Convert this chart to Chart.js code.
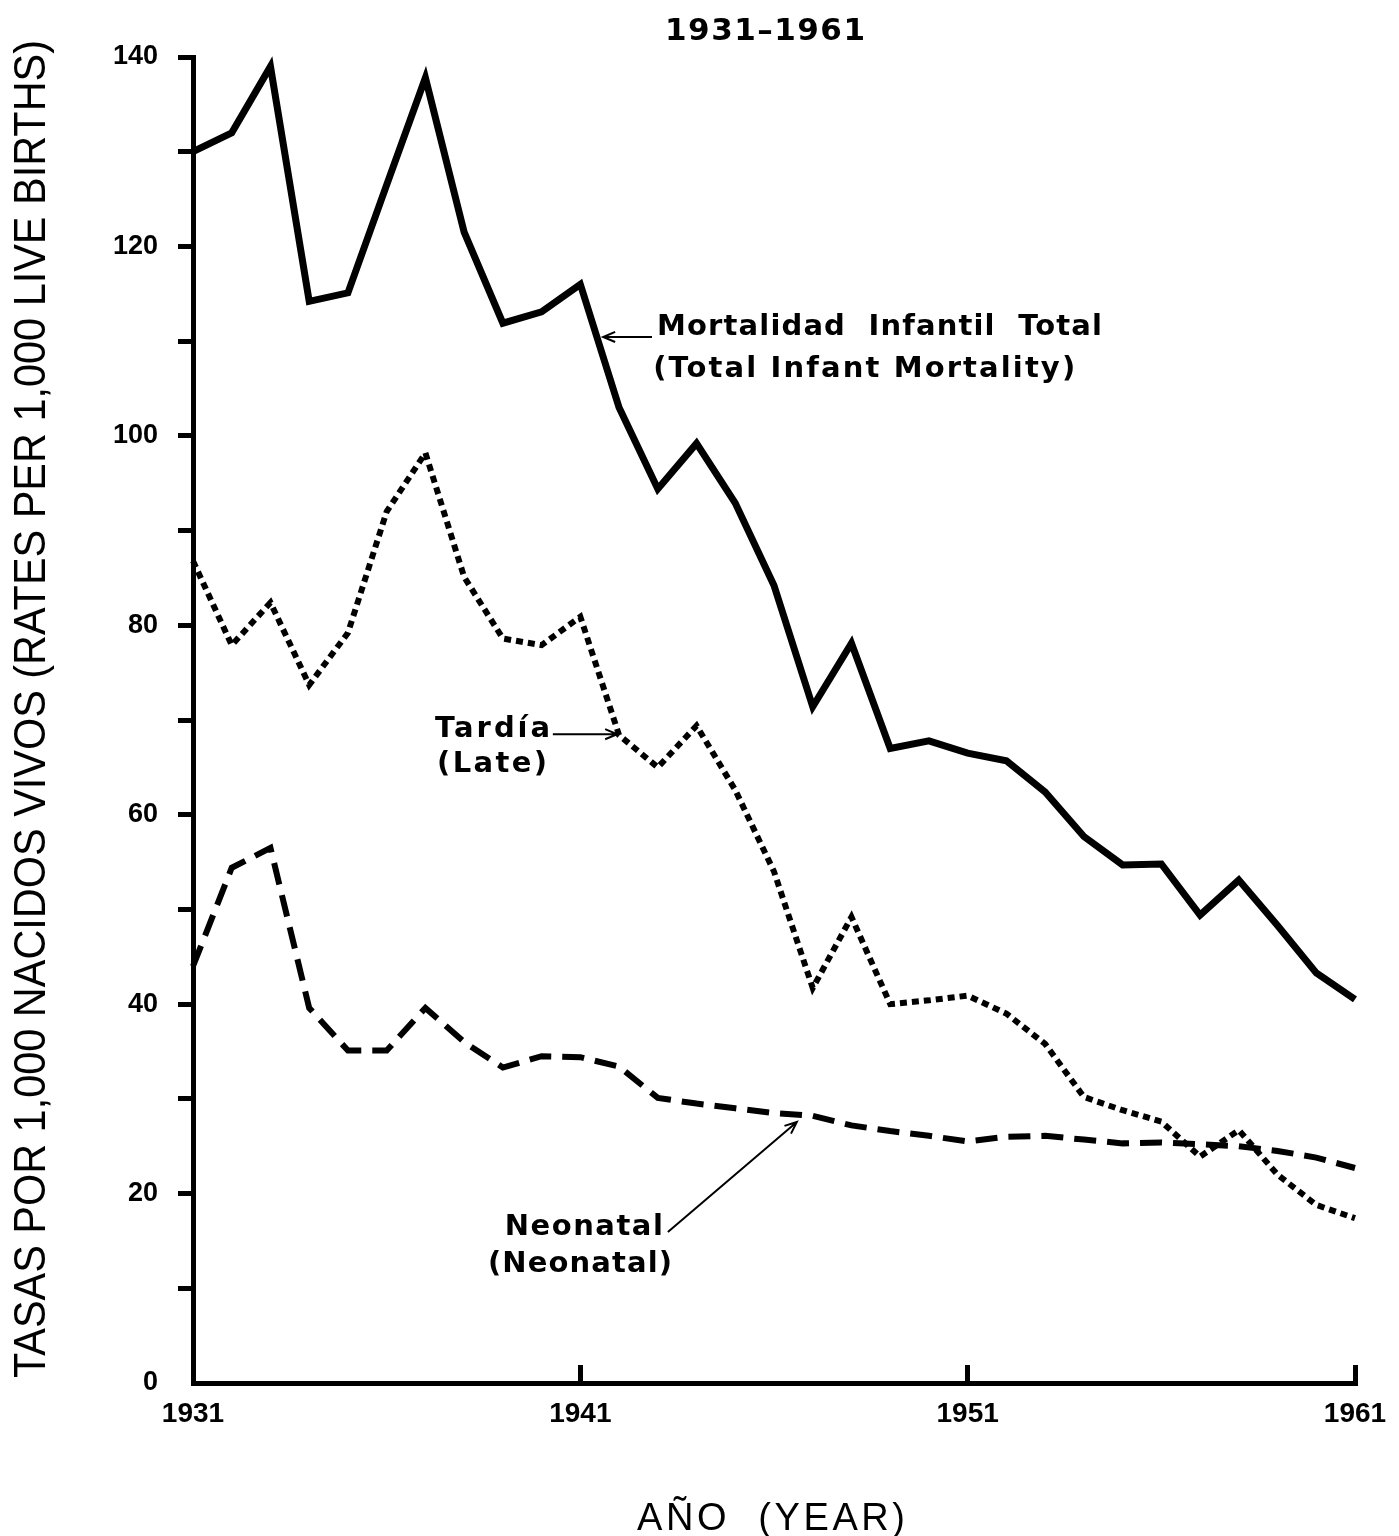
<!DOCTYPE html>
<html>
<head>
<meta charset="utf-8">
<script src="https://cdn.jsdelivr.net/npm/chart.js@4.4.1/dist/chart.umd.min.js"></script>
<style>
  html, body { margin: 0; padding: 0; background: #fff; }
  #wrap { width: 1399px; height: 1536px; position: relative; }
</style>
</head>
<body>
<div id="wrap"><canvas id="chart"></canvas></div>
<script>
// values
const years = [1931, 1932, 1933, 1934, 1935, 1936, 1937, 1938, 1939, 1940,
               1941, 1942, 1943, 1944, 1945, 1946, 1947, 1948, 1949, 1950,
               1951, 1952, 1953, 1954, 1955, 1956, 1957, 1958, 1959, 1960, 1961];

const totalRates = [130, 132, 139, 114.2, 115.1, 126.5, 137.8, 121.5, 111.9, 113.1,
                    116, 103, 94.4, 99.2, 92.9, 84.2, 71.4, 78.1, 67, 67.8,
                    66.5, 65.7, 62.4, 57.7, 54.7, 54.8, 49.4, 53.1, 48.3, 43.3, 40.5];

const lateRates = [86.8, 77.9, 82.4, 73.7, 79.2, 92, 98.2, 85.1, 78.6, 77.9,
                   80.9, 68.4, 65, 69.4, 62.6, 54, 41.7, 49.2, 40, 40.4,
                   40.9, 39, 35.8, 30.2, 28.8, 27.6, 23.9, 26.7, 22, 18.8, 17.4];

const neonatalRates = [44, 54.4, 56.5, 39.6, 35.1, 35.1, 39.6, 36, 33.3, 34.5,
                       34.4, 33.4, 30.1, 29.5, 29, 28.5, 28.2, 27.2, 26.6, 26.1,
                       25.5, 26, 26.1, 25.7, 25.3, 25.4, 25.2, 25, 24.5, 23.8, 22.7];

const yearTicks = [1931, 1941, 1951, 1961];
const rateMax = 140;

const ink = '#000';
const letterFont = '"DejaVu Sans", sans-serif';
const plainFont = '"Liberation Sans", Arial, sans-serif';

// draw text stretched (letter spacing) or squeezed to a given width
function spacedText(ctx, text, x, y, width, align) {
    ctx.letterSpacing = '0px';
    ctx.textAlign = 'left';
    const natural = ctx.measureText(text).width;
    const left = align === 'center' ? x - width / 2 : x;
    if (natural <= width) {
        const gap = text.length > 1 ? (width - natural) / (text.length - 1) : 0;
        ctx.letterSpacing = gap + 'px';
        ctx.fillText(text, left, y);
        ctx.letterSpacing = '0px';
    } else {
        ctx.save();
        ctx.translate(left, y);
        ctx.scale(width / natural, 1);
        ctx.fillText(text, 0, 0);
        ctx.restore();
    }
}

function arrow(ctx, x1, y1, x2, y2, head) {
    const a = Math.atan2(y2 - y1, x2 - x1);
    ctx.beginPath();
    ctx.moveTo(x1, y1);
    ctx.lineTo(x2, y2);
    ctx.moveTo(x2 - head * Math.cos(a - 0.4), y2 - head * Math.sin(a - 0.4));
    ctx.lineTo(x2, y2);
    ctx.lineTo(x2 - head * Math.cos(a + 0.4), y2 - head * Math.sin(a + 0.4));
    ctx.stroke();
}

const paperLabels = {
    id: 'paperLabels',
    afterDraw(chart) {
        const { ctx } = chart;
        const sx = chart.scales.x, sy = chart.scales.y;
        const at = (xv, yv) => [sx.getPixelForValue(xv), sy.getPixelForValue(yv)];

        ctx.save();
        ctx.fillStyle = ink;
        ctx.strokeStyle = ink;
        ctx.textBaseline = 'alphabetic';

        // title
        ctx.font = `bold 31px ${letterFont}`;
        spacedText(ctx, '1931\u20131961', 765, 40, 200, 'center');

        // curve labels
        ctx.font = `bold 29px ${letterFont}`;
        const notes = [
            { text: 'Mortalidad  Infantil  Total', pos: [1942.98, 110.65], width: 445, align: 'left' },
            { text: '(Total Infant Mortality)', pos: [1942.88, 106.2], width: 422, align: 'left' },
            { text: 'Tard\u00eda', pos: [1937.25, 68.2], width: 115, align: 'left' },
            { text: '(Late)', pos: [1937.3, 64.5], width: 110, align: 'left' },
            { text: 'Neonatal', pos: [1941.09, 15.6], width: 158, align: 'center' },
            { text: '(Neonatal)', pos: [1940.99, 11.7], width: 184, align: 'center' }
        ];
        notes.forEach(n => {
            const [x, y] = at(n.pos[0], n.pos[1]);
            spacedText(ctx, n.text, x, y, n.width, n.align);
        });

        ctx.lineWidth = 2;
        [[1942.85, 110.44, 1941.59, 110.44],
         [1940.29, 68.5, 1941.95, 68.5],
         [1943.26, 15.94, 1946.59, 27.56]].forEach(a => {
            const [x1, y1] = at(a[0], a[1]);
            const [x2, y2] = at(a[2], a[3]);
            arrow(ctx, x1, y1, x2, y2, 13);
        });

        // axis titles
        ctx.font = `38px ${plainFont}`;
        spacedText(ctx, 'A\u00d1O  (YEAR)', 637, 1530, 268, 'left');

        ctx.save();
        ctx.translate(45, 1378);
        ctx.rotate(-Math.PI / 2);
        ctx.font = `44px ${plainFont}`;
        spacedText(ctx, 'TASAS POR 1,000 NACIDOS VIVOS (RATES PER 1,000 LIVE BIRTHS)', 0, 0, 1338, 'left');
        ctx.restore();

        ctx.restore();
    }
};

new Chart(document.getElementById('chart'), {
    type: 'line',
    data: {
        labels: years,
        datasets: [
            {
                label: 'Mortalidad Infantil Total',
                data: totalRates,
                borderColor: ink,
                borderWidth: 7,
                borderJoinStyle: 'miter',
                pointRadius: 0,
                tension: 0,
                clip: false
            },
            {
                label: 'Tard\u00eda',
                data: lateRates,
                borderColor: ink,
                borderWidth: 6,
                borderDash: [7, 5],
                borderCapStyle: 'butt',
                pointRadius: 0,
                tension: 0,
                clip: false
            },
            {
                label: 'Neonatal',
                data: neonatalRates,
                borderColor: ink,
                borderWidth: 6,
                borderDash: [22, 11],
                borderCapStyle: 'butt',
                pointRadius: 0,
                tension: 0,
                clip: false
            }
        ]
    },
    options: {
        responsive: true,
        maintainAspectRatio: false,
        animation: false,
        layout: { padding: { top: 57, right: 44, bottom: 0, left: 0 } },
        plugins: {
            legend: { display: false },
            tooltip: { enabled: false }
        },
        scales: {
            x: {
                type: 'linear',
                min: 1931,
                max: 1961,
                afterBuildTicks: (scale) => { scale.ticks = yearTicks.map(v => ({ value: v })); },
                afterFit: (scale) => {
                    scale.height = 153;
                    scale.paddingLeft = 0;
                    scale.paddingRight = 0;
                },
                border: { color: ink, width: 5 },
                grid: {
                    drawOnChartArea: false,
                    tickLength: -18,
                    tickWidth: 5,
                    tickColor: (c) => c.tick && c.tick.value === 1931 ? 'rgba(0,0,0,0)' : ink
                },
                ticks: {
                    color: ink,
                    padding: 32,
                    maxRotation: 0,
                    autoSkip: false,
                    font: { family: plainFont, size: 28, weight: 'bold' },
                    callback: (v) => String(v)
                }
            },
            y: {
                min: 0,
                max: rateMax,
                afterFit: (scale) => {
                    scale.width = 193;
                    scale.paddingTop = 0;
                    scale.paddingBottom = 0;
                },
                border: { color: ink, width: 5 },
                grid: {
                    drawOnChartArea: false,
                    tickLength: 15,
                    tickWidth: 5,
                    tickColor: (c) => c.tick && c.tick.value === 0 ? 'rgba(0,0,0,0)' : ink
                },
                ticks: {
                    stepSize: 10,
                    color: ink,
                    padding: 20,
                    font: { family: plainFont, size: 27, weight: 'bold' },
                    callback: (v) => v % 20 === 0 ? String(v) : ''
                }
            }
        }
    },
    plugins: [paperLabels]
});
</script>
</body>
</html>
